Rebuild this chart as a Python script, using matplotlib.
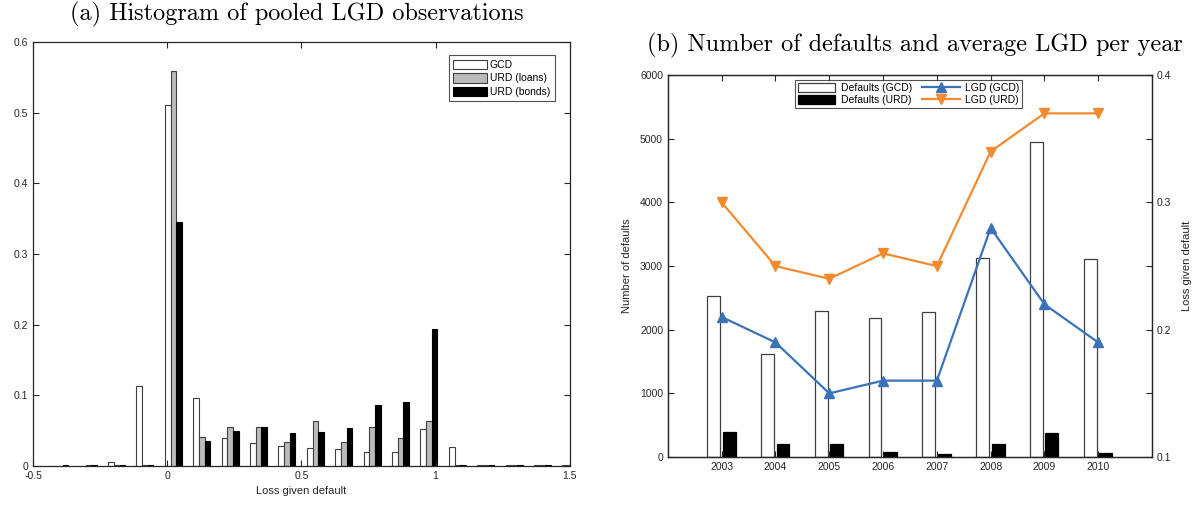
import numpy as np
import matplotlib
matplotlib.use("Agg")
import matplotlib.pyplot as plt

plt.rcParams['font.family'] = ['Liberation Sans', 'DejaVu Sans']
plt.rcParams['axes.linewidth'] = 0.9

# (a) histogram of pooled LGD
bin_centres = [-0.400, -0.294, -0.188, -0.083, 0.023, 0.129, 0.235, 0.340, 0.446,
               0.552, 0.658, 0.764, 0.869, 0.975, 1.081, 1.187, 1.293, 1.398, 1.504]
gcd_hist   = [0.000, 0.000, 0.006, 0.113, 0.511, 0.096, 0.040, 0.033, 0.028,
              0.025, 0.024, 0.020, 0.020, 0.052, 0.027, 0.001, 0.001, 0.001, 0.001]
loans_hist = [0.000, 0.002, 0.001, 0.001, 0.559, 0.041, 0.055, 0.055, 0.034,
              0.064, 0.034, 0.055, 0.039, 0.063, 0.001, 0.002, 0.001, 0.001, 0.001]
bonds_hist = [0.002, 0.001, 0.001, 0.001, 0.345, 0.036, 0.049, 0.055, 0.046,
              0.048, 0.054, 0.086, 0.090, 0.194, 0.001, 0.001, 0.002, 0.001, 0.001]

# (b) defaults and LGD per year
years = [2003, 2004, 2005, 2006, 2007, 2008, 2009, 2010]
defaults_gcd = [2530, 1618, 2293, 2183, 2277, 3125, 4947, 3110]
defaults_urd = [393, 204, 204, 80, 47, 204, 377, 63]
lgd_gcd = [0.21, 0.19, 0.15, 0.16, 0.16, 0.28, 0.22, 0.19]
lgd_urd = [0.30, 0.25, 0.24, 0.26, 0.25, 0.34, 0.37, 0.37]

axis_col = '#262626'
edge_col = '#404040'
blue = '#3A73B9'
orange = '#F28A2E'
tick_fs = 7.5

fig = plt.figure(figsize=(11.97, 5.08), dpi=100)

# ---- panel (a)
ax1 = fig.add_axes([0.0276, 0.0827, 0.4484, 0.8346])
x = np.array(bin_centres)
w = 0.021
ax1.bar(x - w, gcd_hist, width=w, color='white', edgecolor=edge_col, linewidth=0.8, label='GCD')
ax1.bar(x, loans_hist, width=w, color='#BBBBBB', edgecolor=edge_col, linewidth=0.8, label='URD (loans)')
ax1.bar(x + w, bonds_hist, width=w, color='black', edgecolor='black', linewidth=0.8, label='URD (bonds)')
ax1.set_xlim(-0.5, 1.5)
ax1.set_ylim(0, 0.6)
ax1.set_xticks([-0.5, 0, 0.5, 1, 1.5])
ax1.set_xticklabels(['-0.5', '0', '0.5', '1', '1.5'])
ax1.set_yticks([0, 0.1, 0.2, 0.3, 0.4, 0.5, 0.6])
ax1.set_yticklabels(['0', '0.1', '0.2', '0.3', '0.4', '0.5', '0.6'])
ax1.tick_params(direction='in', top=True, right=True, labelsize=tick_fs, colors=axis_col,
                length=4, width=0.8)
ax1.set_xlabel('Loss given default', fontsize=8, color=axis_col, labelpad=4)
for s in ax1.spines.values():
    s.set_color(axis_col)
leg1 = ax1.legend(loc='upper right', bbox_to_anchor=(0.972, 0.969), fontsize=7.5,
                  frameon=True, fancybox=False, edgecolor=axis_col, handlelength=3.2,
                  handleheight=1.0, handletextpad=0.3, labelspacing=0.3,
                  borderpad=0.45, borderaxespad=0)
leg1.get_frame().set_linewidth(0.8)

fig.text(0.248, 0.972, '(a) Histogram of pooled LGD observations', ha='center', va='center',
         fontsize=17.5, family='cmr10')

# ---- panel (b)
ax2 = fig.add_axes([0.558, 0.1004, 0.4044, 0.7516])
yrs = np.array(years)
bw = 0.24
bg = ax2.bar(yrs - 0.15, defaults_gcd, width=bw, color='white', edgecolor=edge_col,
             linewidth=0.9, label='Defaults (GCD)')
bu = ax2.bar(yrs + 0.14, defaults_urd, width=bw, color='black', edgecolor='black',
             linewidth=0.9, label='Defaults (URD)')
ax2.set_xlim(2002, 2011)
ax2.set_ylim(0, 6000)
ax2.set_xticks(years)
ax2.set_yticks(range(0, 6001, 1000))
ax2.tick_params(direction='in', top=True, labelsize=tick_fs, colors=axis_col, length=4, width=0.8)
ax2.set_ylabel('Number of defaults', fontsize=8, color=axis_col, labelpad=6)
for s in ax2.spines.values():
    s.set_color(axis_col)

ax3 = ax2.twinx()
lg, = ax3.plot(years, lgd_gcd, color=blue, linewidth=1.6, marker='^', markersize=7.5,
               label='LGD (GCD)')
lu, = ax3.plot(years, lgd_urd, color=orange, linewidth=1.6, marker='v', markersize=7.5,
               label='LGD (URD)')
ax3.set_ylim(0.1, 0.4)
ax3.set_yticks([0.1, 0.15, 0.2, 0.25, 0.3, 0.35, 0.4])
ax3.set_yticklabels(['0.1', '', '0.2', '', '0.3', '', '0.4'])
ax3.tick_params(direction='in', labelsize=tick_fs, colors=axis_col, length=4, width=0.8)
ax3.set_ylabel('Loss given default', fontsize=8, color=axis_col, labelpad=8)
for s in ax3.spines.values():
    s.set_color(axis_col)

leg2 = ax3.legend([bg, bu, lg, lu], ['Defaults (GCD)', 'Defaults (URD)', 'LGD (GCD)', 'LGD (URD)'],
                  ncol=2, loc='upper left', bbox_to_anchor=(0.262, 0.987), fontsize=7.5,
                  frameon=True, fancybox=False, edgecolor=axis_col, handlelength=3.6,
                  handleheight=0.9, handletextpad=0.5, labelspacing=0.15, columnspacing=1.0,
                  borderpad=0.3, borderaxespad=0)
leg2.get_frame().set_linewidth(0.8)

fig.text(0.764, 0.911, '(b) Number of defaults and average LGD per year', ha='center',
         va='center', fontsize=17.5, family='cmr10')

fig.savefig('out.png', dpi=100, facecolor='white')
